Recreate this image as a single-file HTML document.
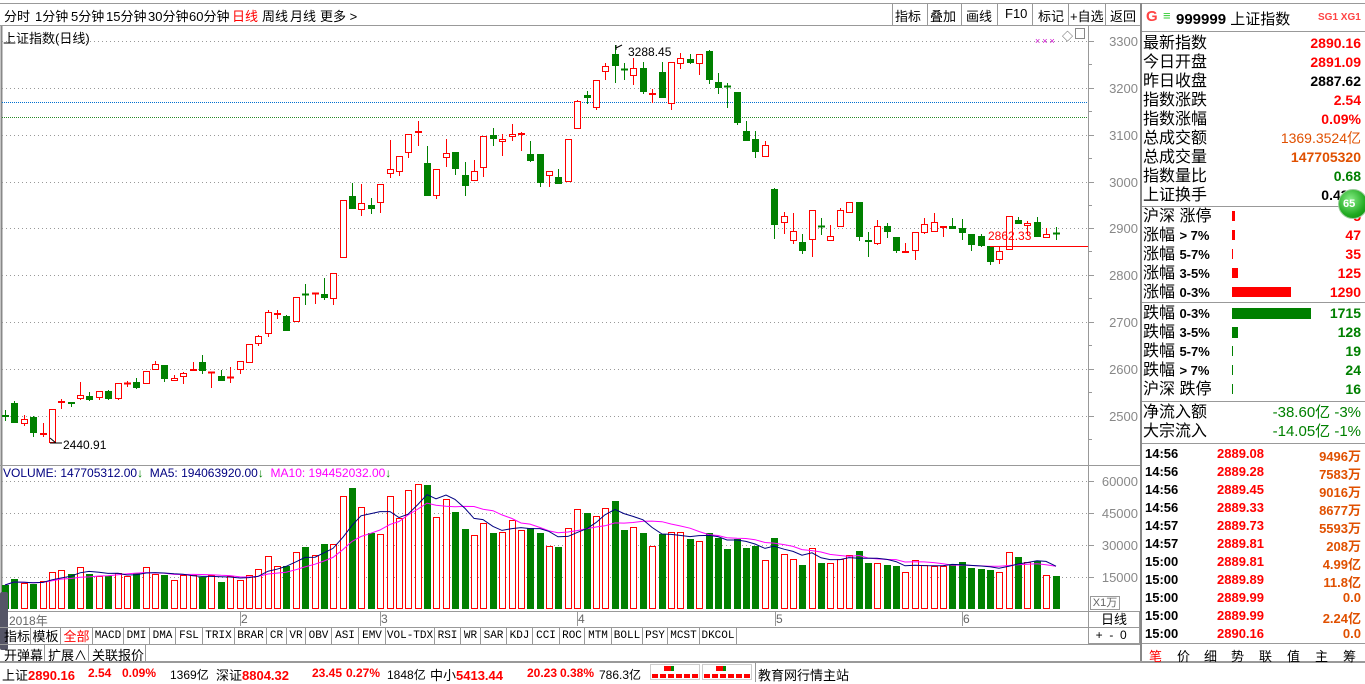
<!DOCTYPE html>
<html><head><meta charset="utf-8">
<style>
*{margin:0;padding:0;box-sizing:border-box}
body{width:1365px;height:682px;background:#fff;position:relative;overflow:hidden;font-family:"Liberation Sans","Noto Sans CJK SC",sans-serif;font-size:13px;color:#000}
.a{position:absolute;white-space:nowrap}
.r{color:#f00}.g{color:#008000}.o{color:#e05000}
.lbl{position:absolute;left:1143px;font-size:16px;line-height:19px}
.val{position:absolute;right:4px;font-weight:bold;font-size:14px;line-height:19px}
.tb{position:absolute;top:628px;height:17px;border:1px solid #999;border-top:none;border-left:none;font-size:11px;line-height:16px;text-align:center;font-family:"Liberation Mono","Noto Sans CJK SC",monospace}
.st{position:absolute;top:666px;font-size:12px;white-space:nowrap}
.tp{position:absolute;top:6px;font-size:13px;white-space:nowrap}
</style></head><body>
<div class="a" style="left:0;top:3px;width:1365px;height:1px;background:#999"></div>
<div class="a" style="left:0;top:25px;width:1140px;height:1px;background:#999"></div>
<div class="tp" style="left:4px">分时</div>
<div class="tp" style="left:35px">1分钟</div>
<div class="tp" style="left:71px">5分钟</div>
<div class="tp" style="left:106px">15分钟</div>
<div class="tp" style="left:148px">30分钟</div>
<div class="tp" style="left:189px">60分钟</div>
<div class="tp r" style="left:232px">日线</div>
<div class="tp" style="left:262px">周线</div>
<div class="tp" style="left:290px">月线</div>
<div class="tp" style="left:320px">更多 &gt;</div>
<div class="a" style="left:892px;top:4px;width:1px;height:21px;background:#999"></div>
<div class="a" style="left:895px;top:6px">指标</div>
<div class="a" style="left:927px;top:4px;width:1px;height:21px;background:#999"></div>
<div class="a" style="left:930px;top:6px">叠加</div>
<div class="a" style="left:961px;top:4px;width:1px;height:21px;background:#999"></div>
<div class="a" style="left:966px;top:6px">画线</div>
<div class="a" style="left:997px;top:4px;width:1px;height:21px;background:#999"></div>
<div class="a" style="left:1005px;top:6px">F10</div>
<div class="a" style="left:1032px;top:4px;width:1px;height:21px;background:#999"></div>
<div class="a" style="left:1038px;top:6px">标记</div>
<div class="a" style="left:1068px;top:4px;width:1px;height:21px;background:#999"></div>
<div class="a" style="left:1070px;top:6px">+自选</div>
<div class="a" style="left:1105px;top:4px;width:1px;height:21px;background:#999"></div>
<div class="a" style="left:1110px;top:6px">返回</div>
<div class="a" style="left:1140px;top:3px;width:2px;height:660px;background:#888"></div>

<div class="a" style="left:3px;top:28px">上证指数(日线)</div>
<div class="a" style="left:1035px;top:36px;color:#c0c;font-size:9px;letter-spacing:2px">×××</div>
<div class="a" style="left:1062px;top:28px;font-size:11px;color:#555">◇</div>
<div class="a" style="left:1075px;top:28px;width:10px;height:11px;border:1px solid #888"></div>

<svg id="ch" class="a" style="left:0;top:0" width="1140" height="628"></svg>

<div class="a" style="left:3px;top:466px;font-size:12px;color:#000080">VOLUME: 147705312.00<span class="g">↓</span>&nbsp;&nbsp;MA5: 194063920.00<span class="g">↓</span>&nbsp;&nbsp;<span style="color:#f0f">MA10: 194452032.00</span><span class="g">↓</span></div>

<div class="a" style="left:0;top:611px;width:1088px;height:1px;background:#999"></div>
<div class="a" style="left:9px;top:612px;font-size:12px;color:#666">2018年</div>
<div class="a" style="left:241px;top:612px;font-size:12px;color:#666">2</div>
<div class="a" style="left:381px;top:612px;font-size:12px;color:#666">3</div>
<div class="a" style="left:578px;top:612px;font-size:12px;color:#666">4</div>
<div class="a" style="left:776px;top:612px;font-size:12px;color:#666">5</div>
<div class="a" style="left:963px;top:612px;font-size:12px;color:#666">6</div>
<div class="a" style="left:1090px;top:596px;width:30px;height:14px;border:1px solid #999;font-size:11px;color:#666;line-height:12px;text-align:center">X1万</div>
<div class="a" style="left:1088px;top:611px;width:52px;height:17px;border:1px solid #999;text-align:center;font-size:13px;line-height:15px">日线</div>
<div class="a" style="left:1088px;top:627px;width:52px;height:17px;border:1px solid #999;font-size:12px;line-height:15px">&nbsp;&nbsp;+&nbsp;&nbsp;-&nbsp;&nbsp;0</div>
<div class="a" style="left:0;top:592px;width:8px;height:58px;background:#556;border-radius:2px"></div>

<div class="a" style="left:0;top:627px;width:1088px;height:1px;background:#999"></div>
<div class="tb" style="left:4px;width:27px;font-size:13px;font-family:'Noto Sans CJK SC',sans-serif">指标</div>
<div class="tb" style="left:31px;width:30px;font-size:13px;font-family:'Noto Sans CJK SC',sans-serif">模板</div>
<div class="tb r" style="left:61px;width:32px;font-size:13px;font-family:'Noto Sans CJK SC',sans-serif">全部</div>
<div class="tb" style="left:93px;width:31px">MACD</div>
<div class="tb" style="left:124px;width:26px">DMI</div>
<div class="tb" style="left:150px;width:26px">DMA</div>
<div class="tb" style="left:176px;width:27px">FSL</div>
<div class="tb" style="left:203px;width:32px">TRIX</div>
<div class="tb" style="left:235px;width:32px">BRAR</div>
<div class="tb" style="left:267px;width:20px">CR</div>
<div class="tb" style="left:287px;width:19px">VR</div>
<div class="tb" style="left:306px;width:26px">OBV</div>
<div class="tb" style="left:332px;width:27px">ASI</div>
<div class="tb" style="left:359px;width:27px">EMV</div>
<div class="tb" style="left:386px;width:49px">VOL-TDX</div>
<div class="tb" style="left:435px;width:26px">RSI</div>
<div class="tb" style="left:461px;width:20px">WR</div>
<div class="tb" style="left:481px;width:26px">SAR</div>
<div class="tb" style="left:507px;width:26px">KDJ</div>
<div class="tb" style="left:533px;width:27px">CCI</div>
<div class="tb" style="left:560px;width:25px">ROC</div>
<div class="tb" style="left:585px;width:27px">MTM</div>
<div class="tb" style="left:612px;width:31px">BOLL</div>
<div class="tb" style="left:643px;width:25px">PSY</div>
<div class="tb" style="left:668px;width:32px">MCST</div>
<div class="tb" style="left:700px;width:37px">DKCOL</div>
<div class="a" style="left:0;top:644px;width:1140px;height:1px;background:#999"></div>
<div class="a" style="left:4px;top:645px;font-size:13px">开弹幕</div>
<div class="a" style="left:44px;top:645px;width:1px;height:16px;background:#999"></div>
<div class="a" style="left:48px;top:645px;font-size:13px">扩展∧</div>
<div class="a" style="left:88px;top:645px;width:1px;height:16px;background:#999"></div>
<div class="a" style="left:92px;top:645px;font-size:13px">关联报价</div>
<div class="a" style="left:145px;top:645px;width:1px;height:16px;background:#999"></div>

<div class="a" style="left:0;top:661px;width:1365px;height:2px;background:#999"></div>
<div class="st" style="left:2px;font-size:13px;top:665px">上证<b class="r">2890.16</b></div>
<div class="st r" style="left:88px;font-weight:bold">2.54</div>
<div class="st r" style="left:122px;font-weight:bold">0.09%</div>
<div class="st" style="left:170px">1369亿</div>
<div class="st" style="left:216px;font-size:13px;top:665px">深证<b class="r">8804.32</b></div>
<div class="st r" style="left:312px;font-weight:bold">23.45</div>
<div class="st r" style="left:346px;font-weight:bold">0.27%</div>
<div class="st" style="left:387px">1848亿</div>
<div class="st" style="left:430px;font-size:13px;top:665px">中小<b class="r">5413.44</b></div>
<div class="st r" style="left:527px;font-weight:bold">20.23</div>
<div class="st r" style="left:560px;font-weight:bold">0.38%</div>
<div class="st" style="left:599px">786.3亿</div>
<div class="a" style="left:650px;top:664px;width:50px;height:16px;border:1px solid #ccc"></div>
<div class="a" style="left:664px;top:666px;width:7px;height:5px;background:#f00"></div><div class="a" style="left:671px;top:666px;width:3px;height:5px;background:#080"></div>
<div class="a" style="left:652px;top:674px;width:46px;height:4px;background:repeating-linear-gradient(90deg,#f00 0 6px,#fff 6px 8px)"></div>
<div class="a" style="left:702px;top:664px;width:50px;height:16px;border:1px solid #ccc"></div>
<div class="a" style="left:716px;top:666px;width:7px;height:5px;background:#f00"></div><div class="a" style="left:723px;top:666px;width:3px;height:5px;background:#080"></div>
<div class="a" style="left:704px;top:674px;width:46px;height:4px;background:repeating-linear-gradient(90deg,#f00 0 6px,#fff 6px 8px)"></div>
<div class="a" style="left:755px;top:663px;width:1px;height:19px;background:#999"></div>
<div class="a" style="left:758px;top:665px;font-size:13px">教育网行情主站</div>

<div class="a" style="left:1146px;top:8px;font-size:15px;color:#f44;font-weight:bold">G</div>
<div class="a" style="left:1163px;top:8px;font-size:13px;color:#3c3">≡</div>
<div class="a" style="left:1176px;top:8px;font-size:15px"><b>999999</b> 上证指数</div>
<div class="a" style="left:1318px;top:12px;font-size:10px;color:#f44;font-weight:bold">SG1 XG1</div>
<div class="a" style="left:1142px;top:31px;width:223px;height:1px;background:#999"></div>
<div class="lbl" style="top:34px">最新指数</div><div class="val r" style="top:34px">2890.16</div>
<div class="lbl" style="top:53px">今日开盘</div><div class="val r" style="top:53px">2891.09</div>
<div class="lbl" style="top:72px">昨日收盘</div><div class="val" style="top:72px">2887.62</div>
<div class="lbl" style="top:91px">指数涨跌</div><div class="val r" style="top:91px">2.54</div>
<div class="lbl" style="top:110px">指数涨幅</div><div class="val r" style="top:110px">0.09%</div>
<div class="lbl" style="top:129px">总成交额</div><div class="val o" style="top:129px;font-weight:normal">1369.3524亿</div>
<div class="lbl" style="top:148px">总成交量</div><div class="val o" style="top:148px">147705320</div>
<div class="lbl" style="top:167px">指数量比</div><div class="val g" style="top:167px">0.68</div>
<div class="lbl" style="top:186px">上证换手</div><div class="val" style="top:186px">0.43%</div>
<div class="a" style="left:1142px;top:206px;width:223px;height:1px;background:#999"></div>
<div class="lbl" style="top:207px">沪深 涨停</div><div class="val r" style="top:207px">5</div>
<div class="lbl" style="top:226px">涨幅 <b style="font-size:13px">&gt; 7%</b></div><div class="val r" style="top:226px">47</div>
<div class="lbl" style="top:245px">涨幅 <b style="font-size:13px">5-7%</b></div><div class="val r" style="top:245px">35</div>
<div class="lbl" style="top:264px">涨幅 <b style="font-size:13px">3-5%</b></div><div class="val r" style="top:264px">125</div>
<div class="lbl" style="top:283px">涨幅 <b style="font-size:13px">0-3%</b></div><div class="val r" style="top:283px">1290</div>
<div class="a" style="left:1232px;top:211px;width:3px;height:10px;background:#f00"></div>
<div class="a" style="left:1232px;top:230px;width:3px;height:10px;background:#f00"></div>
<div class="a" style="left:1232px;top:249px;width:1px;height:10px;background:#f00"></div>
<div class="a" style="left:1232px;top:268px;width:6px;height:10px;background:#f00"></div>
<div class="a" style="left:1232px;top:287px;width:59px;height:10px;background:#f00"></div>
<div class="a" style="left:1142px;top:302px;width:223px;height:1px;background:#999"></div>
<div class="lbl" style="top:304px">跌幅 <b style="font-size:13px">0-3%</b></div><div class="val g" style="top:304px">1715</div>
<div class="lbl" style="top:323px">跌幅 <b style="font-size:13px">3-5%</b></div><div class="val g" style="top:323px">128</div>
<div class="lbl" style="top:342px">跌幅 <b style="font-size:13px">5-7%</b></div><div class="val g" style="top:342px">19</div>
<div class="lbl" style="top:361px">跌幅 <b style="font-size:13px">&gt; 7%</b></div><div class="val g" style="top:361px">24</div>
<div class="lbl" style="top:380px">沪深 跌停</div><div class="val g" style="top:380px">16</div>
<div class="a" style="left:1232px;top:308px;width:79px;height:11px;background:#008000"></div>
<div class="a" style="left:1232px;top:327px;width:6px;height:11px;background:#008000"></div>
<div class="a" style="left:1232px;top:346px;width:1px;height:10px;background:#008000"></div>
<div class="a" style="left:1232px;top:365px;width:1px;height:10px;background:#008000"></div>
<div class="a" style="left:1232px;top:384px;width:1px;height:10px;background:#008000"></div>
<div class="a" style="left:1142px;top:401px;width:223px;height:1px;background:#999"></div>
<div class="lbl" style="top:403px">净流入额</div><div class="val g" style="top:403px;font-weight:normal;font-size:15px">-38.60亿 -3%</div>
<div class="lbl" style="top:422px">大宗流入</div><div class="val g" style="top:422px;font-weight:normal;font-size:15px">-14.05亿 -1%</div>
<div class="a" style="left:1142px;top:443px;width:223px;height:1px;background:#999"></div>
<div id="ticks"></div>
<div class="a" style="left:1142px;top:643px;width:223px;height:1px;background:#999"></div>
<div class="a r" style="left:1149px;top:646px">笔</div>
<div class="a" style="left:1177px;top:646px">价</div>
<div class="a" style="left:1204px;top:646px">细</div>
<div class="a" style="left:1231px;top:646px">势</div>
<div class="a" style="left:1259px;top:646px">联</div>
<div class="a" style="left:1287px;top:646px">值</div>
<div class="a" style="left:1315px;top:646px">主</div>
<div class="a" style="left:1343px;top:646px">筹</div>
<div class="a" style="left:1338px;top:189px;width:30px;height:30px;border-radius:50%;background:radial-gradient(circle at 40% 35%,#8e8,#2a2 60%,#080);border:1px solid #9c9;color:#fff;font-size:11px;font-weight:bold;line-height:28px;padding-left:4px">65</div>

<script>
var s=document.getElementById('ch'),h='';
function L(x1,y1,x2,y2,c,w,d){h+='<line x1="'+x1+'" y1="'+y1+'" x2="'+x2+'" y2="'+y2+'" stroke="'+c+'" stroke-width="'+(w||1)+'"'+(d?' stroke-dasharray="'+d+'"':'')+'/>';}
function T(x,y,t,c,sz,a){h+='<text x="'+x+'" y="'+y+'" fill="'+c+'" font-size="'+(sz||12)+'" font-family="Liberation Sans,sans-serif"'+(a?' text-anchor="'+a+'"':'')+'>'+t+'</text>';}
L(1.5,26,1.5,662,'#888',2);
L(1088.5,26,1088.5,611,'#999');
L(0,465.5,1140,465.5,'#999');
var py=[41,88,135,182,228,275,322,369,416],pl=[3300,3200,3100,3000,2900,2800,2700,2600,2500];
for(var i=0;i<9;i++){L(2,py[i]+.5,1088,py[i]+.5,'#999',1,'1 3');L(1088,py[i]+.5,1094,py[i]+.5,'#999');T(1138,py[i]+5,pl[i],'#888',13,'end');
 L(1088,py[i]+23.5,1092,py[i]+23.5,'#999');}
L(2,102.5,1088,102.5,'#0070d0',1,'1 1');L(2,117.5,1088,117.5,'#2a8a2a',1,'1 1');
var vy=[481,513,545,577],vl=[60000,45000,30000,15000];
for(i=0;i<4;i++){L(2,vy[i]+.5,1088,vy[i]+.5,'#999',1,'1 3');L(1088,vy[i]+.5,1094,vy[i]+.5,'#999');T(1138,vy[i]+5,vl[i],'#888',13,'end');}
[240,380,577,775,962].forEach(function(x){L(x+.5,611,x+.5,626,'#999');});
var C=[
['g',415,417,410,421],['g',403,423,401,423],['r',419,424,415,426],['g',417,433,416,437],['r',433,435,423,437],
['r',409,443,409,443],['r',401,403,399,409],['g',402,404,402,407],['r',395,399,382,400],['g',396,400,392,401],
['r',391,398,391,400],['g',391,399,390,400],['r',383,399,383,400],['r',383,384,381,387],['g',382,388,378,389],
['r',371,384,371,384],['r',364,370,361,370],['g',365,379,365,382],['r',378,381,375,381],['r',373,377,372,384],
['r',369,371,362,371],['g',362,371,355,374],['r',372,373,372,388],['g',376,381,370,381],['r',377,378,367,383],
['r',361,370,361,374],['r',344,363,344,363],['r',336,344,335,346],['r',312,334,310,337],['r',313,315,310,319],
['g',316,331,315,331],['r',297,322,297,322],['g',294,295,284,305],['r',293,294,293,304],['g',294,298,278,300],
['r',273,299,273,305],['r',200,258,200,258],['g',196,209,183,209],['r',203,210,184,216],['g',205,209,198,214],
['r',184,203,184,213],['r',169,174,140,178],['r',156,172,156,176],['r',134,153,134,158],['r',131,133,121,146],
['g',163,196,146,196],['r',169,196,169,199],['r',153,158,139,167],['g',152,169,152,175],['g',175,186,162,196],
['r',171,181,160,181],['r',136,168,136,177],['g',135,139,128,146],['r',139,142,134,156],['r',134,137,124,141],
['r',133,135,132,151],['g',154,161,141,162],['g',154,183,154,187],['r',171,176,171,187],['g',177,184,169,184],
['r',139,182,139,182],['r',101,129,100,129],['g',95,98,91,104],['r',80,108,80,110],['r',66,72,63,80],
['g',54,66,45,83],['g',69,69,63,80],['r',68,76,58,85],['g',68,92,62,94],['r',93,95,89,103],
['g',72,98,62,98],['r',62,104,62,110],['r',58,64,53,69],['g',59,63,54,64],['r',54,64,54,75],
['g',51,80,50,84],['g',82,88,73,94],['g',86,86,83,108],['g',92,123,92,125],['g',131,141,121,141],
['g',139,152,131,158],['r',145,157,141,157],['g',189,225,188,239],['r',216,223,212,234],['r',231,241,213,244],
['g',242,251,234,254],['r',210,240,210,257],['g',226,226,218,235],['r',236,241,225,241],['r',210,227,208,227],
['r',202,213,202,213],['g',202,237,202,241],['g',240,242,232,257],['r',226,244,220,245],['g',226,232,223,238],
['g',237,251,237,253],['r',251,253,243,253],['r',232,251,232,260],['r',224,233,218,234],['r',222,232,213,232],
['r',226,228,226,237],['g',226,229,218,229],['g',228,233,219,240],['g',234,245,234,251],['g',236,246,234,247],
['g',246,262,246,265],['r',251,260,247,264],['r',216,250,216,250],['g',220,224,217,224],['r',223,226,221,235],
['g',222,237,217,237],['r',234,238,228,238],['g',233,233,227,240]];
var V=[585,579,583,584,581,572,570,574,567,574,576,576,573,576,573,567,574,575,580,575,
575,577,575,582,576,580,575,569,556,566,566,552,547,555,544,544,496,488,507,533,
534,496,518,490,484,485,517,499,512,529,535,523,533,532,520,530,528,533,546,547,
528,509,513,516,508,501,530,527,533,546,534,532,532,539,541,533,538,549,539,548,
546,560,538,554,559,565,548,563,563,559,555,551,563,563,565,566,572,560,565,566,
566,565,562,568,569,570,572,552,557,562,561,575,576];
var base=609,RED='#f00',GRN='#008000';
for(i=0;i<C.length;i++){var c=C[i],x=Math.round(5+i*9.38),col=c[0]=='r'?RED:GRN;
 var t=c[1],b=c[2];
 L(x+.5,c[3],x+.5,t,col);L(x+.5,b,x+.5,c[4],col);
 if(b-t<2){L(x-3,t+.5,x+4,t+.5,col,2);}
 else if(c[0]=='r')h+='<rect x="'+(x-2.5)+'" y="'+(t+.5)+'" width="6" height="'+(b-t-1)+'" fill="#fff" stroke="'+RED+'"/>';
 else h+='<rect x="'+(x-3)+'" y="'+t+'" width="7" height="'+(b-t)+'" fill="'+GRN+'"/>';
 var vt=V[i];
 if(c[0]=='r')h+='<rect x="'+(x-2.5)+'" y="'+(vt+.5)+'" width="6" height="'+(base-vt-1)+'" fill="#fff" stroke="'+RED+'"/>';
 else h+='<rect x="'+(x-3)+'" y="'+vt+'" width="7" height="'+(base-vt)+'" fill="'+GRN+'"/>';
}
function ma(n,col){var p='';for(var i=0;i<V.length;i++){var s=0,k=0;for(var j=Math.max(0,i-n+1);j<=i;j++){s+=base-V[j];k++;}p+=Math.round(5+i*9.38)+','+(base-s/k).toFixed(1)+' ';}
 h+='<polyline points="'+p+'" fill="none" stroke="'+col+'" stroke-width="1"/>';}
ma(10,'#f0f');ma(5,'#000080');
L(50,438,56,443,'#000');L(50,443,62,443,'#000');T(63,449,'2440.91','#000',12);
L(616,48,622,45,'#000');L(616,45,616,50,'#000');T(628,56,'3288.45','#000',12);
L(990,246.5,1088,246.5,RED);T(988,240,'2862.33',RED,12);
s.innerHTML=h;
var tk=[['14:56','2889.08','9496万'],['14:56','2889.28','7583万'],['14:56','2889.45','9016万'],['14:56','2889.33','8677万'],['14:57','2889.73','5593万'],['14:57','2889.81','208万'],['15:00','2889.81','4.99亿'],['15:00','2889.89','11.8亿'],['15:00','2889.99','0.0'],['15:00','2889.99','2.24亿'],['15:00','2890.16','0.0']];
var th='';tk.forEach(function(r,i){var y=446+i*18;
th+='<div class="a" style="left:1145px;top:'+y+'px;font-weight:bold;font-size:13px">'+r[0]+'</div><div class="a r" style="left:1217px;top:'+y+'px;font-weight:bold;font-size:13px">'+r[1]+'</div><div class="a o" style="right:4px;top:'+y+'px;font-weight:bold;font-size:13px">'+r[2]+'</div>';});
document.getElementById('ticks').innerHTML=th;
</script>
</body></html>
